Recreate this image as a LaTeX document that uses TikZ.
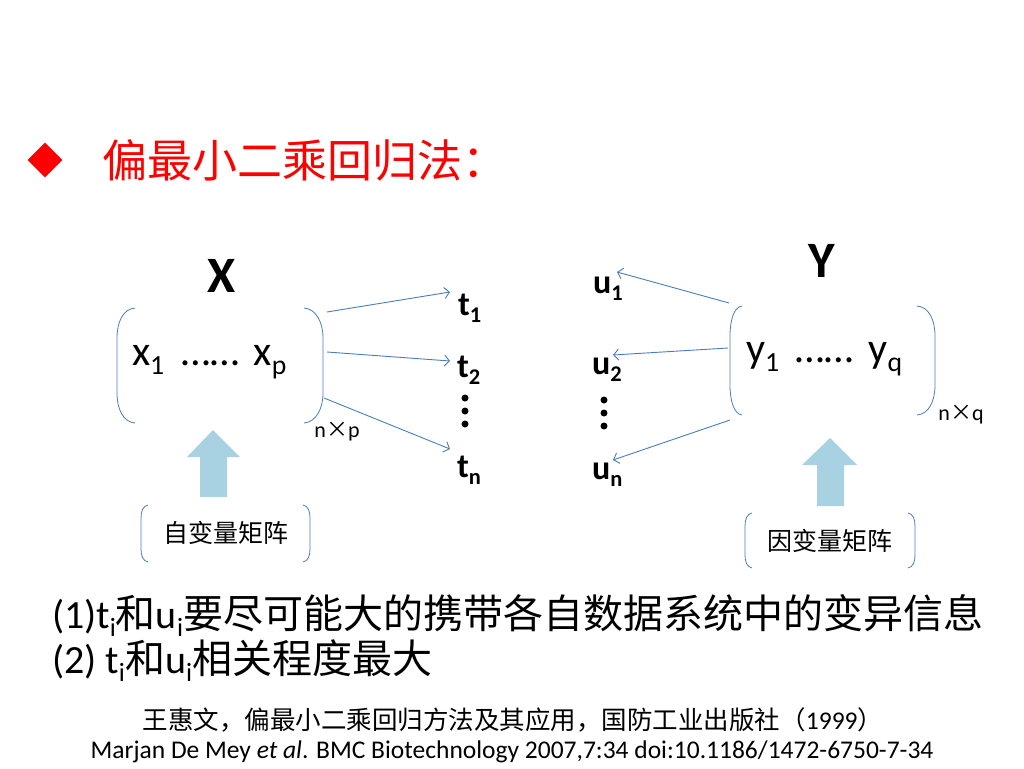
\documentclass[tikz,border=0pt]{standalone}
\usepackage{fontspec}
\setmainfont{Carlito}
\newfontfamily\cjk{Noto Sans CJK SC}
\usetikzlibrary{arrows.meta,shapes.geometric}
\definecolor{lineblue}{RGB}{74,126,187}
\definecolor{lightarrow}{RGB}{168,210,225}
\definecolor{titlered}{RGB}{255,0,0}
\newcommand{\fsz}[1]{\fontsize{#1}{#1}\selectfont}
\newcommand{\mysub}[1]{\raisebox{-0.22em}{\scalebox{0.66}{#1}}}
\begin{document}
\begin{tikzpicture}[x=1pt,y=-1pt,
  conn/.style={draw=lineblue, line width=0.9pt, -{Straight Barb[length=5pt,width=11pt]}},
  paren/.style={draw=lineblue, line width=0.8pt},
  bigarrow/.style={fill=lightarrow},
  txt/.style={inner sep=0pt, outer sep=0pt},
  bold/.style={txt, font=\fsz{34}\bfseries},
  dotmark/.style={circle, fill=black, inner sep=0pt, minimum size=7pt}
]
\useasboundingbox (0,0) rectangle (1024,768);
\fill[white] (0,0) rectangle (1024,768);

% title
\node[diamond, fill=titlered, inner sep=0pt, minimum width=35pt, minimum height=35pt] (bullet) at (45,160) {};
\node[txt, anchor=west, text=titlered, font=\fsz{45}\cjk] (title) at (102,160) {偏最小二乘回归法：};

% X matrix
\node[txt, anchor=base, font=\fsz{51}\bfseries] (X) at (222,292) {X};
\node[txt, anchor=base west, font=\fsz{42}] (xrow) at (132,365) {x\mysub{1}\hspace{0.4em}……\hspace{0.35em}x\mysub{p}};
\draw[paren] (135,308) .. controls (123,309) and (117,322) .. (117,338) -- (117,393) .. controls (117,409) and (123,422) .. (135,423);
\draw[paren] (304,308) .. controls (316,309) and (323,322) .. (323,338) -- (323,393) .. controls (323,409) and (316,422) .. (304,423);
\node[txt, font=\fsz{22}] (np) at (337,432) {n{\cjk ×}p};

% t labels
\node[bold, anchor=base west] (t1) at (458,315) {t\mysub{1}};
\node[bold, anchor=base west] (t2) at (457,377) {t\mysub{2}};
\node[dotmark] (td1) at (465,398) {};
\node[dotmark] (td2) at (465,411) {};
\node[dotmark] (td3) at (465,424) {};
\node[bold, anchor=base west] (tn) at (457,477) {t\mysub{n}};

\coordinate (xa1) at (327,312); \coordinate (ta1) at (450,292);
\coordinate (xa2) at (327,352); \coordinate (ta2) at (450,361);
\coordinate (xa3) at (324,398); \coordinate (ta3) at (450,449);
\draw[conn] (xa1) -- (ta1);
\draw[conn] (xa2) -- (ta2);
\draw[conn] (xa3) -- (ta3);

% Y matrix
\node[txt, anchor=base, font=\fsz{51}\bfseries] (Y) at (822,277) {Y};
\node[txt, anchor=base west, font=\fsz{42}] (yrow) at (746,362) {y\mysub{1}\hspace{0.4em}……\hspace{0.35em}y\mysub{q}};
\draw[paren] (742,306) .. controls (734,307) and (730,320) .. (730,336) -- (730,385) .. controls (730,401) and (734,414) .. (742,415);
\draw[paren] (917,306) .. controls (929,307) and (935,320) .. (935,336) -- (935,385) .. controls (935,401) and (929,414) .. (917,415);
\node[txt, font=\fsz{22}] (nq) at (961,415) {n{\cjk ×}q};

% u labels
\node[bold, anchor=base west] (u1) at (593,293) {u\mysub{1}};
\node[bold, anchor=base west] (u2) at (592,374) {u\mysub{2}};
\node[dotmark] (ud1) at (604,400) {};
\node[dotmark] (ud2) at (604,413) {};
\node[dotmark] (ud3) at (604,426) {};
\node[bold, anchor=base west] (un) at (592,479) {u\mysub{n}};

\coordinate (ya1) at (729,303); \coordinate (ua1) at (617,272);
\coordinate (ya2) at (728,348); \coordinate (ua2) at (613,355);
\coordinate (ya3) at (730,420); \coordinate (ua3) at (613,460);
\draw[conn] (ya1) -- (ua1);
\draw[conn] (ya2) -- (ua2);
\draw[conn] (ya3) -- (ua3);

% big arrows
\fill[bigarrow] (213,430) -- (240,457) -- (227,457) -- (227,497) -- (200,497) -- (200,457) -- (187,457) -- cycle;
\fill[bigarrow] (830,438) -- (857,465) -- (844,465) -- (844,506) -- (817,506) -- (817,465) -- (802,465) -- cycle;

% label boxes
\node[txt, font=\fsz{25}\cjk] (xlab) at (226,533) {自变量矩阵};
\draw[paren] (148,505) .. controls (143,506) and (141,511) .. (141,518) -- (141,549) .. controls (141,556) and (143,561) .. (148,562);
\draw[paren] (303,505) .. controls (308,506) and (310,511) .. (310,518) -- (310,549) .. controls (310,556) and (308,561) .. (303,562);

\node[txt, font=\fsz{25}\cjk] (ylab) at (830,541) {因变量矩阵};
\draw[paren] (752,513) .. controls (747,514) and (745,519) .. (745,526) -- (745,555) .. controls (745,562) and (747,567) .. (752,568);
\draw[paren] (908,513) .. controls (913,514) and (915,519) .. (915,526) -- (915,555) .. controls (915,562) and (913,567) .. (908,568);

% bottom statements
\node[txt, anchor=base west, font=\fsz{40}] (s1) at (52,628) {(1)t\mysub{i}{\cjk 和}u\mysub{i}{\cjk 要尽可能大的携带各自数据系统中的变异信息}};
\node[txt, anchor=base west, font=\fsz{40}] (s2) at (52,673) {(2) t\mysub{i}{\cjk 和}u\mysub{i}{\cjk 相关程度最大}};

% citations
\node[txt, font=\fsz{25.5}] (c1) at (513,720) {{\cjk 王惠文，偏最小二乘回归方法及其应用，国防工业出版社（}1999{\cjk ）}};
\node[txt, anchor=base, font=\fsz{25.5}] (c2) at (512,758) {Marjan De Mey \textit{et al}. BMC Biotechnology 2007,7:34 doi:10.1186/1472-6750-7-34};
\end{tikzpicture}
\end{document}
